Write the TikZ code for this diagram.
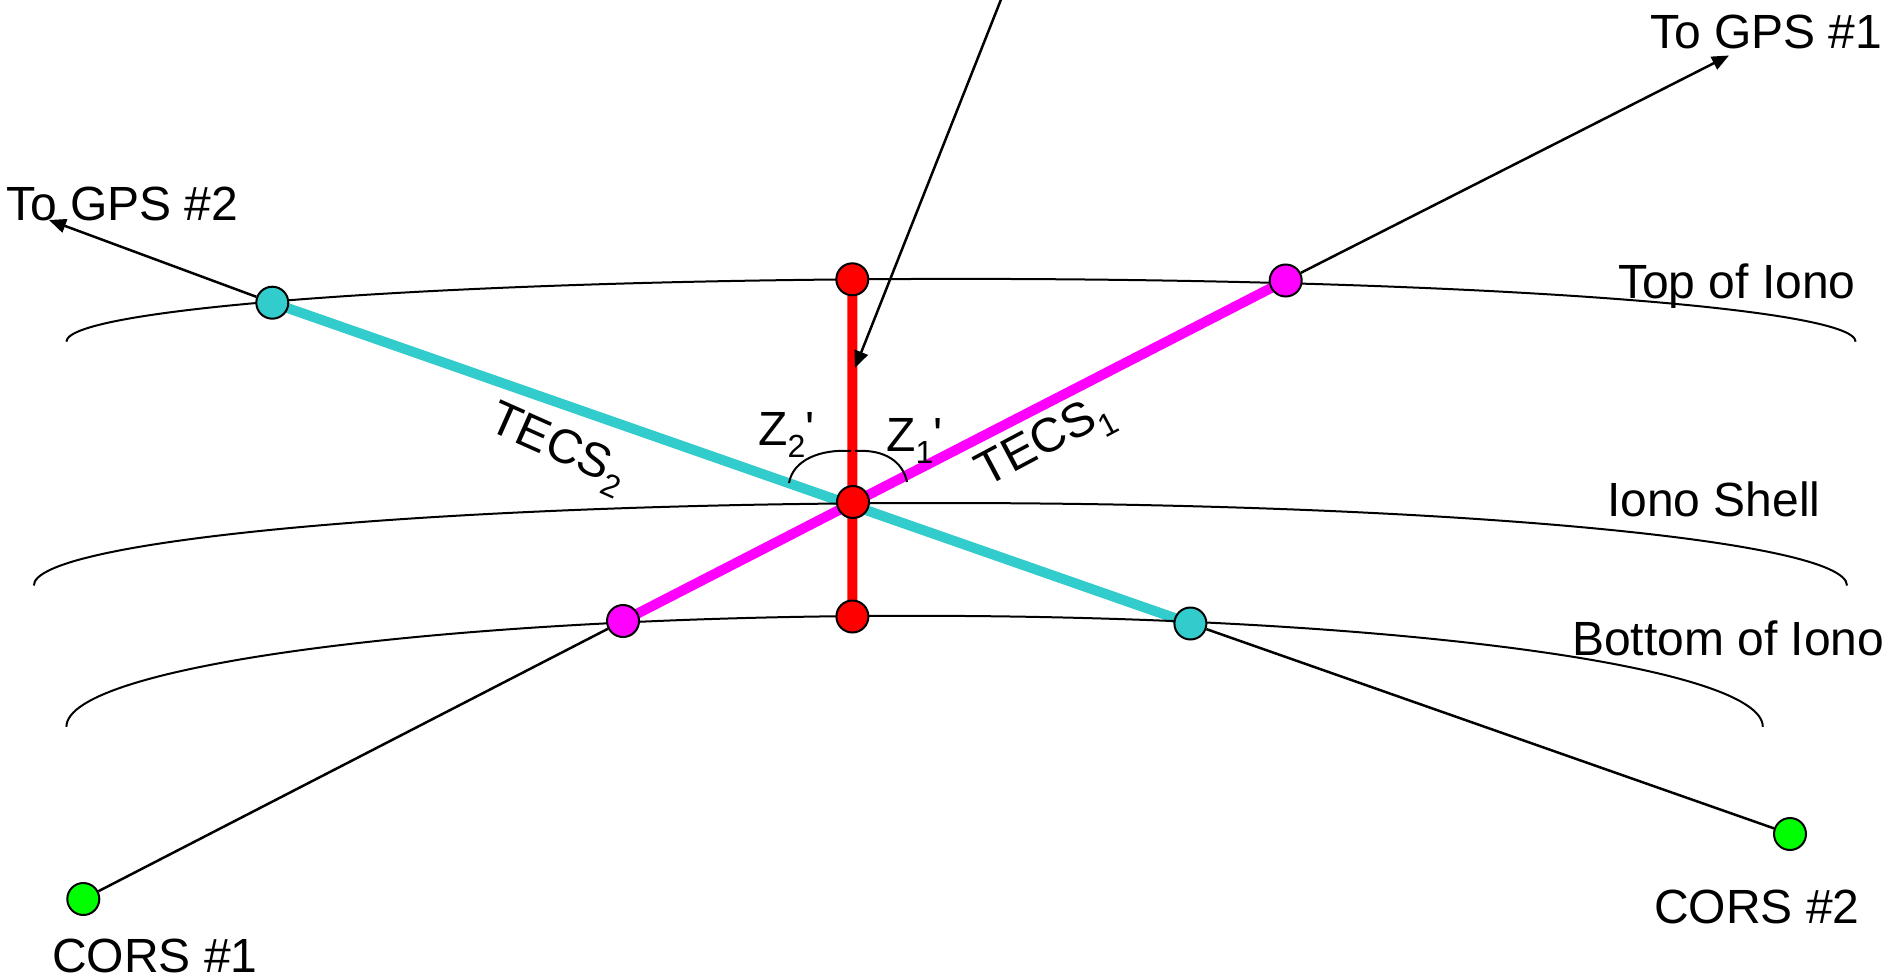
\documentclass[tikz,border=0pt]{standalone}
\usepackage{fontspec}
\setmainfont{Liberation Sans}
\usetikzlibrary{arrows.meta}
\pgfdeclarelayer{bg}
\pgfsetlayers{bg,main}
\definecolor{tcyan}{RGB}{51,204,204}
\definecolor{tmag}{RGB}{255,0,255}
\definecolor{tred}{RGB}{255,0,0}
\definecolor{tgreen}{RGB}{0,255,0}
\tikzset{
  dot/.style={circle,draw=black,line width=2pt,minimum size=32pt,inner sep=0pt},
  shell/.style={draw=black,line width=2pt},
  ray/.style={draw=black,line width=2.5pt},
  arrowray/.style={ray,-{Triangle[length=17pt,width=14pt]}},
  tec/.style={line width=10pt},
  lbl/.style={font=\fontsize{48}{56}\selectfont,inner sep=0pt,anchor=base west},
  tlbl/.style={font=\fontsize{48}{56}\selectfont,inner sep=0pt},
}
\newcommand{\mysub}[1]{\raisebox{-12pt}{\fontsize{32}{32}\selectfont #1}}
\begin{document}
\begin{tikzpicture}[x=1pt,y=-1pt]
\useasboundingbox (0,0) rectangle (1893,977);
% shells
\draw[shell] (66.4,341.7) arc[start angle=180,end angle=0,x radius=894.6pt,y radius=62.8pt];
\draw[shell] (33.8,585.5) arc[start angle=180,end angle=0,x radius=906.6pt,y radius=82.5pt];
\draw[shell] (66.4,726.8) arc[start angle=180,end angle=0,x radius=848.2pt,y radius=111pt];
% dots
\node[dot,fill=tred] (rtop) at (852.3,279.3) {};
\node[dot,fill=tred] (rmid) at (853,502) {};
\node[dot,fill=tred] (rbot) at (852.4,616.5) {};
\node[dot,fill=tcyan] (ctop) at (272.3,302.7) {};
\node[dot,fill=tcyan] (cbot) at (1190.4,623.5) {};
\node[dot,fill=tmag] (mtop) at (1285.7,280.5) {};
\node[dot,fill=tmag] (mbot) at (623,621) {};
\node[dot,fill=tgreen] (cors1) at (83.3,899) {};
\node[dot,fill=tgreen] (cors2) at (1790,834) {};
% thick TEC lines
\begin{pgfonlayer}{bg}
\draw[tec,tcyan] (ctop.center) -- (cbot.center);
\draw[tec,tmag] (mbot.center) -- (mtop.center);
\draw[tec,tred] (rtop.center) -- (rbot.center);
\end{pgfonlayer}
% rays
\coordinate (gps2) at (49,220);
\coordinate (gps1) at (1729,55.5);
\coordinate (zen) at (1002,-3);
\coordinate (zentip) at (855,368);
\draw[arrowray] (ctop) -- (gps2);
\draw[arrowray] (mtop) -- (gps1);
\draw[ray] (mbot) -- (cors1);
\draw[ray] (cbot) -- (cors2);
\draw[arrowray] (zen) -- (zentip);
% zenith angle arcs
\draw[shell] (789,483) .. controls (793,460) and (820,449) .. (851,451);
\draw[shell] (855,451) .. controls (885,449) and (903,462) .. (907,482);
% labels
\node[lbl] (tgps1) at (1650,48) {To GPS \#1};
\node[lbl] (tgps2) at (6,220) {To GPS \#2};
\node[lbl] (ttop) at (1618,298) {Top of Iono};
\node[lbl] (tshell) at (1607,516) {Iono Shell};
\node[lbl] (tbot) at (1572,655) {Bottom of Iono};
\node[lbl] (tc1) at (52,972.7) {CORS \#1};
\node[lbl] (tc2) at (1654,923.3) {CORS \#2};
\node[lbl] (z2) at (758,445) {Z\mysub{2}\textquotesingle};
\node[lbl] (z1) at (886,451.7) {Z\mysub{1}\textquotesingle};
\node[tlbl,rotate=-24] (tecs2) at (557,449) {TECS\mysub{2}};
\node[tlbl,rotate=28] (tecs1) at (1046,444) {TECS\mysub{1}};
\end{tikzpicture}
\end{document}
